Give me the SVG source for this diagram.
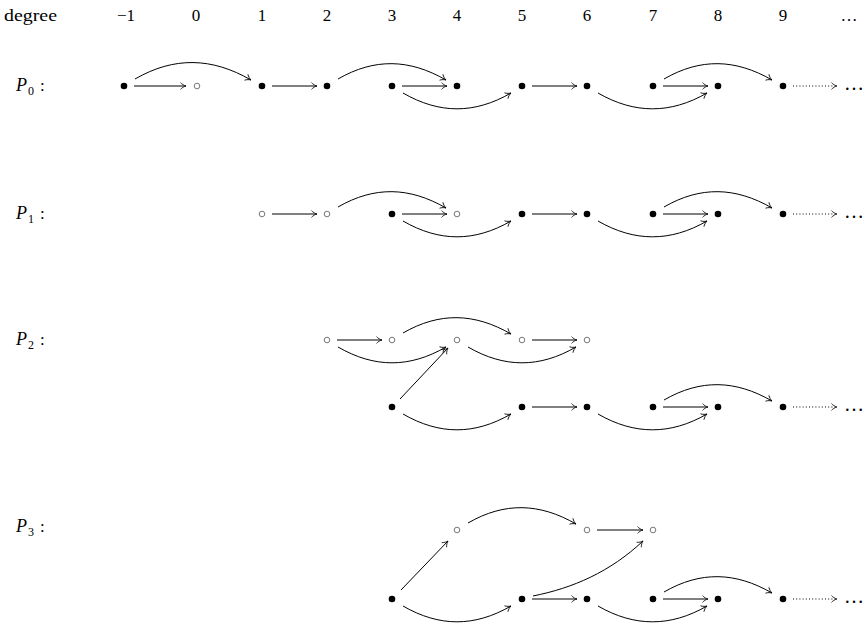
<svg xmlns="http://www.w3.org/2000/svg" width="866" height="624" viewBox="0 0 866 624">
<style>
text{font-family:"Liberation Serif","DejaVu Serif","Times New Roman",serif;font-size:17px;fill:#000}
.hd{text-anchor:middle}
.dot{fill:#000}
.open{fill:none;stroke:#555;stroke-width:0.8}
.e{fill:none;stroke:#000;stroke-width:1;marker-end:url(#to)}
.dt{stroke-dasharray:1 2.2}
.it{font-style:italic}
.more{font-size:20px}
</style>
<defs>
<marker id="to" markerUnits="userSpaceOnUse" markerWidth="12" markerHeight="12" refX="0" refY="0" orient="auto" overflow="visible">
<path d="M -5.5 -3.4 C -4 -1.6, -1.6 -0.4, 0 0 C -1.6 0.4, -4 1.6, -5.5 3.4" fill="none" stroke="#000" stroke-width="0.8"/>
</marker>
</defs>

<g id="header">
<text x="4" y="21" textLength="53" lengthAdjust="spacingAndGlyphs">degree</text>
<text class="hd" x="126" y="21">−1</text>
<text class="hd" x="196" y="21">0</text>
<text class="hd" x="262" y="21">1</text>
<text class="hd" x="327" y="21">2</text>
<text class="hd" x="392" y="21">3</text>
<text class="hd" x="457" y="21">4</text>
<text class="hd" x="522" y="21">5</text>
<text class="hd" x="587" y="21">6</text>
<text class="hd" x="653" y="21">7</text>
<text class="hd" x="718" y="21">8</text>
<text class="hd" x="783" y="21">9</text>
<text class="hd" x="849" y="21" fill="#333">…</text>
</g>

<g id="labels">
<text x="16" y="91"><tspan class="it" font-size="18">P</tspan><tspan font-size="12" x="28" y="95">0</tspan><tspan x="40" y="91">:</tspan></text>
<text x="16" y="219"><tspan class="it" font-size="18">P</tspan><tspan font-size="12" x="28" y="223">1</tspan><tspan x="40" y="219">:</tspan></text>
<text x="16" y="345"><tspan class="it" font-size="18">P</tspan><tspan font-size="12" x="28" y="349">2</tspan><tspan x="40" y="345">:</tspan></text>
<text x="16" y="532"><tspan class="it" font-size="18">P</tspan><tspan font-size="12" x="28" y="536">3</tspan><tspan x="40" y="532">:</tspan></text>
</g>

<!-- P0 nodes -->
<g id="p0_m1"><circle class="dot" cx="124" cy="86" r="3.3"/></g>
<g id="p0_0"><circle class="open" cx="197" cy="86" r="2.8"/></g>
<g id="p0_1"><circle class="dot" cx="262" cy="86" r="3.3"/></g>
<g id="p0_2"><circle class="dot" cx="327" cy="86" r="3.3"/></g>
<g id="p0_3"><circle class="dot" cx="392" cy="86" r="3.3"/></g>
<g id="p0_4"><circle class="dot" cx="457" cy="86" r="3.3"/></g>
<g id="p0_5"><circle class="dot" cx="522" cy="86" r="3.3"/></g>
<g id="p0_6"><circle class="dot" cx="587" cy="86" r="3.3"/></g>
<g id="p0_7"><circle class="dot" cx="653" cy="86" r="3.3"/></g>
<g id="p0_8"><circle class="dot" cx="718" cy="86" r="3.3"/></g>
<g id="p0_9"><circle class="dot" cx="783" cy="86" r="3.3"/></g>
<g id="p0_more"><text class="more" x="844" y="90">…</text></g>

<!-- P1 nodes -->
<g id="p1_1"><circle class="open" cx="262" cy="214" r="2.8"/></g>
<g id="p1_2"><circle class="open" cx="327" cy="214" r="2.8"/></g>
<g id="p1_3"><circle class="dot" cx="392" cy="214" r="3.3"/></g>
<g id="p1_4"><circle class="open" cx="457" cy="214" r="2.8"/></g>
<g id="p1_5"><circle class="dot" cx="522" cy="214" r="3.3"/></g>
<g id="p1_6"><circle class="dot" cx="587" cy="214" r="3.3"/></g>
<g id="p1_7"><circle class="dot" cx="653" cy="214" r="3.3"/></g>
<g id="p1_8"><circle class="dot" cx="718" cy="214" r="3.3"/></g>
<g id="p1_9"><circle class="dot" cx="783" cy="214" r="3.3"/></g>
<g id="p1_more"><text class="more" x="844" y="218">…</text></g>

<!-- P2 nodes -->
<g id="p2_u2"><circle class="open" cx="327" cy="340" r="2.8"/></g>
<g id="p2_u3"><circle class="open" cx="392" cy="340" r="2.8"/></g>
<g id="p2_u4"><circle class="open" cx="457" cy="340" r="2.8"/></g>
<g id="p2_u5"><circle class="open" cx="522" cy="340" r="2.8"/></g>
<g id="p2_u6"><circle class="open" cx="587" cy="340" r="2.8"/></g>
<g id="p2_l3"><circle class="dot" cx="392" cy="407" r="3.3"/></g>
<g id="p2_l5"><circle class="dot" cx="522" cy="407" r="3.3"/></g>
<g id="p2_l6"><circle class="dot" cx="587" cy="407" r="3.3"/></g>
<g id="p2_l7"><circle class="dot" cx="653" cy="407" r="3.3"/></g>
<g id="p2_l8"><circle class="dot" cx="718" cy="407" r="3.3"/></g>
<g id="p2_l9"><circle class="dot" cx="783" cy="407" r="3.3"/></g>
<g id="p2_more"><text class="more" x="844" y="411">…</text></g>

<!-- P3 nodes -->
<g id="p3_u4"><circle class="open" cx="457" cy="530" r="2.8"/></g>
<g id="p3_u6"><circle class="open" cx="587" cy="530" r="2.8"/></g>
<g id="p3_u7"><circle class="open" cx="653" cy="530" r="2.8"/></g>
<g id="p3_l3"><circle class="dot" cx="392" cy="599" r="3.3"/></g>
<g id="p3_l5"><circle class="dot" cx="522" cy="599" r="3.3"/></g>
<g id="p3_l6"><circle class="dot" cx="587" cy="599" r="3.3"/></g>
<g id="p3_l7"><circle class="dot" cx="653" cy="599" r="3.3"/></g>
<g id="p3_l8"><circle class="dot" cx="718" cy="599" r="3.3"/></g>
<g id="p3_l9"><circle class="dot" cx="783" cy="599" r="3.3"/></g>
<g id="p3_more"><text class="more" x="844" y="603">…</text></g>

<g id="connectors">
<!-- P0 -->
<path class="e" d="M 134 86 H 186"/>
<path class="e" d="M 135 79 C 174.2 56.4, 211.8 57.4, 251 80"/>
<path class="e" d="M 272 86 H 317"/>
<path class="e" d="M 338 79 C 374.6 57.9, 409.4 58.9, 446 80"/>
<path class="e" d="M 402 86 H 447"/>
<path class="e" d="M 403 93 C 439.6 114.1, 474.4 114.1, 511 93"/>
<path class="e" d="M 532 86 H 577"/>
<path class="e" d="M 598 93 C 634.6 114.1, 670.4 114.1, 707 93"/>
<path class="e" d="M 663 86 H 708"/>
<path class="e" d="M 664 79 C 700.6 57.9, 735.4 58.9, 772 80"/>
<path class="e dt" d="M 793 86 H 837"/>
<!-- P1 -->
<path class="e" d="M 272 214 H 317"/>
<path class="e" d="M 338 207 C 374.6 185.9, 409.4 186.9, 446 208"/>
<path class="e" d="M 402 214 H 447"/>
<path class="e" d="M 403 221 C 439.6 242.1, 474.4 242.1, 511 221"/>
<path class="e" d="M 532 214 H 577"/>
<path class="e" d="M 598 221 C 634.6 242.1, 670.4 242.1, 707 221"/>
<path class="e" d="M 663 214 H 708"/>
<path class="e" d="M 664 207 C 700.6 185.9, 735.4 186.9, 772 208"/>
<path class="e dt" d="M 793 214 H 837"/>
<!-- P2 upper -->
<path class="e" d="M 337 340 H 382"/>
<path class="e" d="M 338 347 C 374.6 368.1, 409.4 368.1, 446 347"/>
<path class="e" d="M 403 333 C 439.6 311.9, 474.4 312.9, 511 334"/>
<path class="e" d="M 468 347 C 504.6 368.1, 539.4 368.1, 576 347"/>
<path class="e" d="M 532 340 H 577"/>
<!-- P2 lower -->
<path class="e" d="M 400 399 L 448 348"/>
<path class="e" d="M 403 414 C 439.6 435.1, 474.4 435.1, 511 414"/>
<path class="e" d="M 532 407 H 577"/>
<path class="e" d="M 598 414 C 634.6 435.1, 670.4 435.1, 707 414"/>
<path class="e" d="M 663 407 H 708"/>
<path class="e" d="M 664 400 C 700.6 378.9, 735.4 379.9, 772 401"/>
<path class="e dt" d="M 793 407 H 837"/>
<!-- P3 -->
<path class="e" d="M 468 523 C 504.6 501.9, 539.4 502.9, 576 524"/>
<path class="e" d="M 597 530 H 643"/>
<path class="e" d="M 401 590 L 448 541"/>
<path class="e" d="M 403 606 C 439.6 627.1, 474.4 627.1, 511 606"/>
<path class="e" d="M 533 596 C 573 588, 610 572, 643 541"/>
<path class="e" d="M 532 599 H 577"/>
<path class="e" d="M 598 606 C 634.6 627.1, 670.4 627.1, 707 606"/>
<path class="e" d="M 663 599 H 708"/>
<path class="e" d="M 664 592 C 700.6 570.9, 735.4 571.9, 772 593"/>
<path class="e dt" d="M 793 599 H 837"/>
</g>
</svg>
